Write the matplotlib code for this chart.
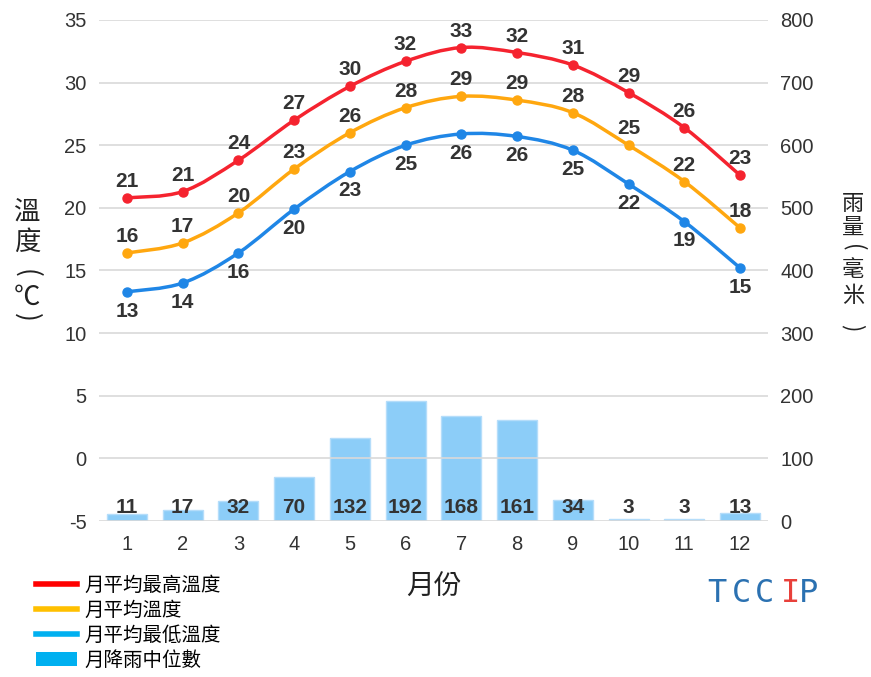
import numpy as np
import matplotlib
matplotlib.use("Agg")
from matplotlib import pyplot as plt
from matplotlib.path import Path
from matplotlib.patches import PathPatch, Patch
from matplotlib.lines import Line2D

plt.rcParams['font.family'] = ['Liberation Sans', 'Noto Sans CJK TC', 'DejaVu Sans']
plt.rcParams['axes.unicode_minus'] = False

# monthly data
months = [1, 2, 3, 4, 5, 6, 7, 8, 9, 10, 11, 12]
t_max = [20.8, 21.3, 23.8, 27.0, 29.7, 31.7, 32.8, 32.4, 31.4, 29.2, 26.4, 22.6]
t_mean = [16.4, 17.2, 19.6, 23.1, 26.0, 28.0, 28.9, 28.6, 27.6, 25.0, 22.1, 18.4]
t_min = [13.3, 14.0, 16.4, 19.9, 22.9, 25.0, 25.9, 25.7, 24.6, 21.9, 18.9, 15.2]
rain = [11, 17, 32, 70, 132, 192, 168, 161, 34, 3, 3, 13]

legend_labels = ["月平均最高溫度", "月平均溫度", "月平均最低溫度", "月降雨中位數"]

c_max = '#f5232f'
c_mean = '#ffa70f'
c_min = '#1f86e6'
c_bar = '#8ccdf8'
txt = '#333333'
W, H = 871, 677


def smooth_path(x, y):
    # catmull-rom style bezier through the points (just for drawing)
    x = np.asarray(x, float)
    y = np.asarray(y, float)
    px = np.concatenate([[x[0]], x, [x[-1]]])
    py = np.concatenate([[y[0]], y, [y[-1]]])
    verts = [(x[0], y[0])]
    codes = [Path.MOVETO]
    for i in range(1, len(px) - 2):
        c1 = (px[i] + (px[i + 1] - px[i - 1]) / 6, py[i] + (py[i + 1] - py[i - 1]) / 6)
        c2 = (px[i + 1] - (px[i + 2] - px[i]) / 6, py[i + 1] - (py[i + 2] - py[i]) / 6)
        verts += [c1, c2, (px[i + 1], py[i + 1])]
        codes += [Path.CURVE4] * 3
    return Path(verts, codes)


def stacked_label(fig, x, chars, ys, size):
    # upright chars one under another, parens turned sideways
    for ch, y in zip(chars, ys):
        rot = -90 if ch in '()' else 0
        fig.text(x / W, 1 - y / H, ch, ha='center', va='center', fontsize=size,
                 color='#222222', rotation=rot, family=['Noto Sans CJK TC', 'DejaVu Sans'])


fig = plt.figure(figsize=(W / 100, H / 100), dpi=100)
ax = fig.add_axes([0.1137, 0.2304, 0.7680, 0.7401])
ax2 = ax.twinx()

# temperature axis on the left
ax.set_xlim(0.5, 12.5)
ax.set_ylim(-5, 35)
ax.set_yticks(range(-5, 36, 5))
ax.set_xticks(months)
ax.grid(axis='y', color='#d9d9d9', lw=1.2)
ax.set_axisbelow(True)

# rain axis on the right
ax2.set_ylim(0, 800)
ax2.set_yticks(range(0, 801, 100))

for a in (ax, ax2):
    for s in a.spines.values():
        s.set_visible(False)
ax.tick_params(axis='both', length=0, labelsize=14.5, labelcolor=txt)
ax.tick_params(axis='x', pad=10)
ax.tick_params(axis='y', pad=9)
ax2.tick_params(axis='y', length=0, labelsize=14.5, labelcolor=txt, pad=9)

# bars go on the rain axis but must sit under the lines
ax2.set_zorder(0)
ax.set_zorder(1)
ax.patch.set_visible(False)
ax2.bar(months, rain, width=0.72, color=c_bar, edgecolor='#b5ddfa', lw=1)
for m, r in zip(months, rain):
    ax2.annotate(str(r), (m, 0), xytext=(0, 3), textcoords='offset points',
                 ha='center', va='bottom', fontsize=15, fontweight='bold', color=txt)

for vals, col, below in [(t_max, c_max, False), (t_mean, c_mean, False), (t_min, c_min, True)]:
    ax.add_patch(PathPatch(smooth_path(months, vals), fill=False, edgecolor=col, lw=2.5))
    ax.plot(months, vals, 'o', color=col, ms=6.5)
    for m, v in zip(months, vals):
        if below:
            ax.annotate(str(int(round(v))), (m, v), xytext=(0, -7), textcoords='offset points',
                        ha='center', va='top', fontsize=15, fontweight='bold', color=txt)
        else:
            ax.annotate(str(int(round(v))), (m, v), xytext=(0, 5), textcoords='offset points',
                        ha='center', va='bottom', fontsize=15, fontweight='bold', color=txt)

ax.set_xlabel("月份", fontsize=20, color='#222222', labelpad=15)

# vertical axis titles
stacked_label(fig, 27, ['溫', '度', '(', '℃', ')'], [212, 242, 273, 297, 317], 19)
stacked_label(fig, 853, ['雨', '量', '(', '毫', '米', ')'], [203, 227, 248, 269, 296, 328], 16)

handles = [Line2D([], [], color='#ff0000', lw=4),
           Line2D([], [], color='#ffc000', lw=4),
           Line2D([], [], color='#00b0f0', lw=4),
           Patch(facecolor='#00b0f0')]
fig.legend(handles, legend_labels, loc='upper left', bbox_to_anchor=(0.041, 0.148),
           frameon=False, fontsize=14, handlelength=2.1, handletextpad=0.4,
           labelspacing=0.32, borderpad=0, borderaxespad=0)

# TCCIP logo
logo_blue = '#2b71b1'
for ch, xp, col in [('T', 717, logo_blue), ('C', 741, logo_blue), ('C', 764, logo_blue),
                    ('I', 790, '#e8403a'), ('P', 808, logo_blue)]:
    fig.text(xp / W, 1 - 593 / H, ch, ha='center', va='center', fontsize=23,
             color=col, family='DejaVu Sans Mono')

fig.savefig('out.png', dpi=100)
